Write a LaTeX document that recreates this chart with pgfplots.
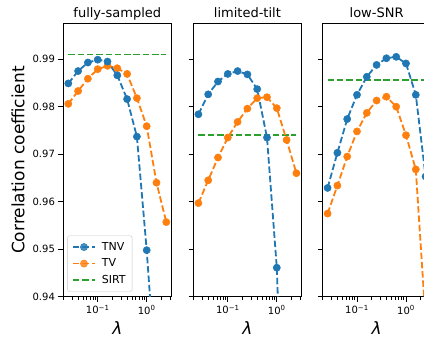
\documentclass[border=0pt]{standalone}
\usepackage{fontspec}
\setmainfont{DejaVu Sans}
\usepackage{pgfplots}
\pgfplotsset{compat=1.18}
\definecolor{tabblue}{HTML}{1F77B4}
\definecolor{taborange}{HTML}{FF7F0E}
\definecolor{tabgreen}{HTML}{2CA02C}

\pgfplotsset{
  mypanel/.style={
    scale only axis, width=107.8pt, height=273.4pt,
    xmin=0.019953, xmax=3.16228, ymin=0.94, ymax=0.99756,
    xtick={0.1,1}, xticklabels={10\textsuperscript{−1},10\textsuperscript{0}},
    minor xtick={0.02,0.03,0.04,0.05,0.06,0.07,0.08,0.09,0.2,0.3,0.4,0.5,0.6,0.7,0.8,0.9,2,3},
    ytick={0.94,0.95,0.96,0.97,0.98,0.99},
    tick align=outside, xtick pos=left, ytick pos=left,
    major tick length=5pt, minor tick length=3pt,
    every tick/.style={black, line width=0.8pt},
    axis line style={line width=0.9pt},
    ticklabel style={font=\fontsize{10}{12}\selectfont},
    title style={font=\fontsize{13}{15}\selectfont, anchor=base, at={(rel axis cs:0.5,1)}, yshift=0pt, inner sep=0pt},
    xlabel={\itshape λ},
    xlabel style={font=\fontsize{17}{20}\selectfont, at={(axis description cs:0.5,0)}, anchor=center, yshift=-31pt},
    every axis plot/.append style={line width=1.8pt, dash pattern=on 6.5pt off 2.8pt},
  },
  tnv/.style={color=tabblue, mark=*, mark size=3.6pt, mark options={solid, fill=tabblue, draw=tabblue, line width=0.5pt}},
  tv/.style={color=taborange, mark=*, mark size=3.6pt, mark options={solid, fill=taborange, draw=taborange, line width=0.5pt}},
  sirt/.style={color=tabgreen, no marks},
}

\begin{document}
\begin{tikzpicture}[trim left=0pt, trim right=424pt]
\path (0,0) rectangle (424pt,337pt);
% ---------------- panel 1
\begin{semilogxaxis}[mypanel, at={(63.4pt,40.3pt)}, anchor=south west,
  title={fully-sampled},
  yticklabels={0.94,0.95,0.96,0.97,0.98,0.99},
  ylabel={Correlation coefficient},
  ylabel style={font=\fontsize{17}{20}\selectfont, at={(axis description cs:-0.421,0.5)}, anchor=center},
  reverse legend,
  legend cell align=left,
  legend image code/.code={\draw[mark repeat=2,mark phase=2,#1] plot coordinates {(0pt,0pt)(11pt,0pt)(22pt,0pt)};},
  legend style={at={(axis description cs:0,0)}, anchor=south west, xshift=4pt, yshift=5pt,
    draw=black!22, rounded corners=2pt, fill=white, fill opacity=0.8, text opacity=1,
    font=\fontsize{11}{13}\selectfont, row sep=3pt, column sep=4pt, inner sep=4.5pt},
]
\addplot[sirt] coordinates {(0.025119,0.9910) (2.511886,0.9910)};
\addlegendentry{SIRT}
\addplot[tv] coordinates {
(0.025119,0.9806) (0.039811,0.9833) (0.063096,0.9859) (0.1,0.9879) (0.158489,0.9886)
(0.251189,0.9881) (0.398107,0.9869) (0.630957,0.9818) (1.0,0.9759) (1.584893,0.9640) (2.511886,0.9557)};
\addlegendentry{TV}
\addplot[tnv] coordinates {
(0.025119,0.9849) (0.039811,0.9875) (0.063096,0.9893) (0.1,0.9899) (0.158489,0.9895)
(0.251189,0.9866) (0.398107,0.9816) (0.630957,0.9737) (1.0,0.9498) (1.584893,0.9208) (2.511886,0.8800)};
\addlegendentry{TNV}
\end{semilogxaxis}
% ---------------- panel 2
\begin{semilogxaxis}[mypanel, at={(193.5pt,40.3pt)}, anchor=south west,
  title={limited-tilt}, yticklabels={}]
\addplot[sirt] coordinates {(0.025119,0.9741) (2.511886,0.9741)};
\addplot[tv] coordinates {
(0.025119,0.9597) (0.039811,0.9645) (0.063096,0.9693) (0.1,0.9735) (0.158489,0.9768)
(0.251189,0.9796) (0.398107,0.9818) (0.630957,0.9820) (1.0,0.9797) (1.584893,0.9730) (2.511886,0.9660)};
\addplot[tnv] coordinates {
(0.025119,0.9784) (0.039811,0.9826) (0.063096,0.9853) (0.1,0.9869) (0.158489,0.9875)
(0.251189,0.9868) (0.398107,0.9837) (0.630957,0.9735) (1.0,0.9461) (1.584893,0.8860) (2.511886,0.8300)};
\end{semilogxaxis}
% ---------------- panel 3
\begin{semilogxaxis}[mypanel, at={(322.7pt,40.3pt)}, anchor=south west,
  title={low-SNR}, yticklabels={}]
\addplot[sirt] coordinates {(0.025119,0.9856) (2.511886,0.9856)};
\addplot[tv] coordinates {
(0.025119,0.9575) (0.039811,0.9634) (0.063096,0.9695) (0.1,0.9748) (0.158489,0.9787)
(0.251189,0.9813) (0.398107,0.9821) (0.630957,0.9800) (1.0,0.9740) (1.584893,0.9668) (2.511886,0.9350)};
\addplot[tnv] coordinates {
(0.025119,0.9629) (0.039811,0.9703) (0.063096,0.9774) (0.1,0.9825) (0.158489,0.9863)
(0.251189,0.9888) (0.398107,0.9902) (0.630957,0.9905) (1.0,0.9891) (1.584893,0.9825) (2.511886,0.9653)};
\end{semilogxaxis}
\end{tikzpicture}
\end{document}
